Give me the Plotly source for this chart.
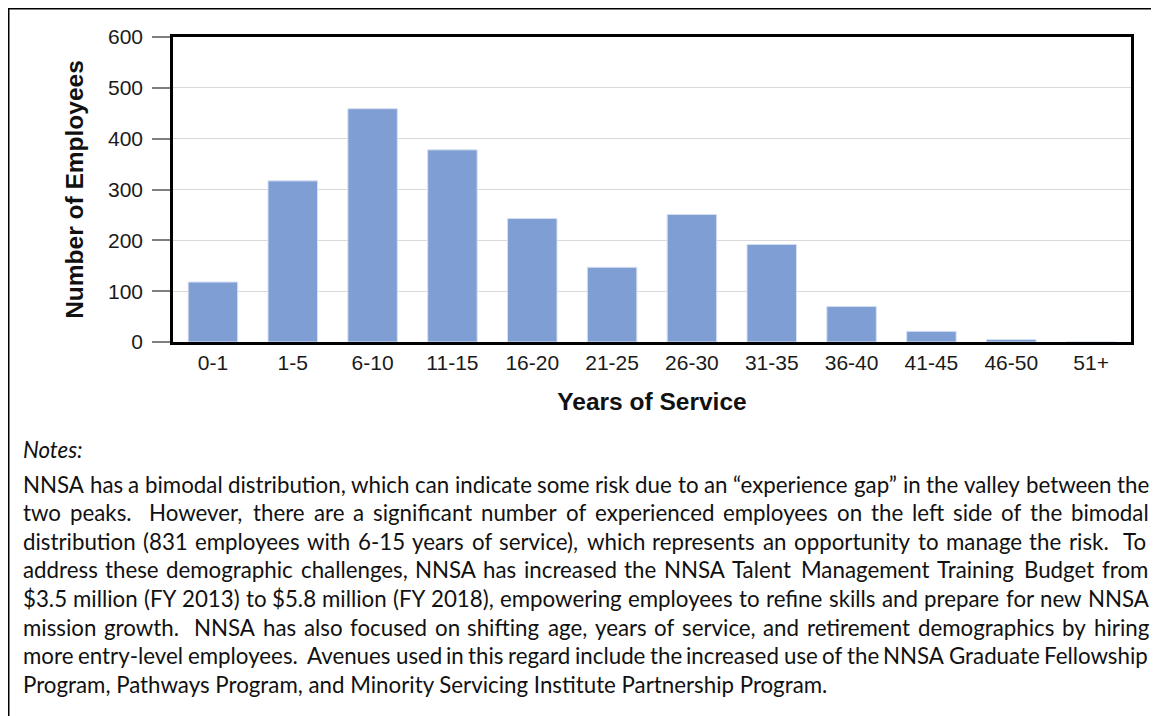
import glob
import struct
import plotly.graph_objects as go

# ---------------- data ----------------
categories = ["0-1", "1-5", "6-10", "11-15", "16-20", "21-25",
              "26-30", "31-35", "36-40", "41-45", "46-50", "51+"]
employees = [118, 317, 459, 378, 243, 147, 251, 192, 70, 21, 5, 0]
y_tick_values = [0, 100, 200, 300, 400, 500, 600]

x_title = "Years of Service"
y_title = "Number of Employees"

notes_title = "Notes:"
notes_lines = [
    "NNSA has a bimodal distribution, which can indicate some risk due to an \u201cexperience gap\u201d in the valley between the",
    "two peaks.  However, there are a significant number of experienced employees on the left side of the bimodal",
    "distribution (831 employees with 6-15 years of service), which represents an opportunity to manage the risk.  To",
    "address these demographic challenges, NNSA has increased the NNSA Talent Management Training Budget from",
    "$3.5 million (FY 2013) to $5.8 million (FY 2018), empowering employees to refine skills and prepare for new NNSA",
    "mission growth.  NNSA has also focused on shifting age, years of service, and retirement demographics by hiring",
    "more entry-level employees.  Avenues used in this regard include the increased use of the NNSA Graduate Fellowship",
    "Program, Pathways Program, and Minority Servicing Institute Partnership Program.",
]

# ---------------- layout geometry (page pixels) ----------------
PAGE_W, PAGE_H = 1159, 716
OFF = 8  # browser body margin
W, H = PAGE_W - OFF, PAGE_H - OFF
PL, PR, PT, PB = 173, 1131, 37, 342  # plot area edges on the page


def px_x(px):
    return (px - PL) / (PR - PL)


def px_y(py):
    return (PB - py) / (PB - PT)


# ---------------- font metrics for justified notes ----------------
def _parse_ttf(path):
    data = open(path, "rb").read()
    num = struct.unpack(">H", data[4:6])[0]
    tables = {}
    for i in range(num):
        tag, _, off, ln = struct.unpack(">4sIII", data[12 + 16 * i:28 + 16 * i])
        tables[tag.decode("latin1")] = off
    head = tables["head"]
    upm = struct.unpack(">H", data[head + 18:head + 20])[0]
    hhea = tables["hhea"]
    nhm = struct.unpack(">H", data[hhea + 34:hhea + 36])[0]
    hmtx = tables["hmtx"]
    adv = [struct.unpack(">H", data[hmtx + 4 * i:hmtx + 4 * i + 2])[0] for i in range(nhm)]
    cmap = tables["cmap"]
    nsub = struct.unpack(">H", data[cmap + 2:cmap + 4])[0]
    sub = None
    for i in range(nsub):
        pid, eid, off = struct.unpack(">HHI", data[cmap + 4 + 8 * i:cmap + 12 + 8 * i])
        s = cmap + off
        fmt = struct.unpack(">H", data[s:s + 2])[0]
        if fmt == 4 and (pid == 3 or pid == 0):
            sub = s
            break
    if sub is None:
        raise ValueError("no cmap")
    segx2 = struct.unpack(">H", data[sub + 6:sub + 8])[0]
    seg = segx2 // 2
    ends = sub + 14
    starts = ends + segx2 + 2
    deltas = starts + segx2
    ranges = deltas + segx2

    def glyph(c):
        for k in range(seg):
            e = struct.unpack(">H", data[ends + 2 * k:ends + 2 * k + 2])[0]
            if e >= c:
                st = struct.unpack(">H", data[starts + 2 * k:starts + 2 * k + 2])[0]
                if st > c:
                    return 0
                d = struct.unpack(">h", data[deltas + 2 * k:deltas + 2 * k + 2])[0]
                ro = struct.unpack(">H", data[ranges + 2 * k:ranges + 2 * k + 2])[0]
                if ro == 0:
                    return (c + d) & 0xFFFF
                a = ranges + 2 * k + ro + 2 * (c - st)
                g = struct.unpack(">H", data[a:a + 2])[0]
                return (g + d) & 0xFFFF if g else 0
        return 0

    cache = {}

    def width(ch):
        if ch not in cache:
            g = glyph(ord(ch))
            cache[ch] = adv[min(g, len(adv) - 1)] / upm
        return cache[ch]
    return width


_ARIAL = {" ": .278, ",": .278, ".": .278, "-": .333, "(": .333, ")": .333, "$": .556,
          "\u201c": .333, "\u201d": .333, ":": .278,
          "A": .667, "B": .667, "C": .722, "D": .722, "E": .667, "F": .611, "G": .778, "H": .722,
          "I": .278, "J": .5, "K": .667, "L": .556, "M": .833, "N": .722, "O": .778, "P": .667,
          "Q": .778, "R": .722, "S": .667, "T": .611, "U": .722, "V": .667, "W": .944, "X": .667,
          "Y": .667, "Z": .611, "a": .556, "b": .556, "c": .5, "d": .556, "e": .556, "f": .278,
          "g": .556, "h": .556, "i": .222, "j": .222, "k": .5, "l": .222, "m": .833, "n": .556,
          "o": .556, "p": .556, "q": .556, "r": .333, "s": .5, "t": .278, "u": .556, "v": .5,
          "w": .722, "x": .5, "y": .5, "z": .5}


def _fallback(ch):
    if ch.isdigit():
        return .556 * 0.9
    return _ARIAL.get(ch, .5) * 0.9


def load_width(pattern):
    paths = []
    for root in ("/usr/share/fonts", "/usr/local/share/fonts", "/root/.fonts"):
        paths += glob.glob(root + "/**/" + pattern, recursive=True)
    for p in paths:
        try:
            return _parse_ttf(p)
        except Exception:
            continue
    return _fallback


NOTE_FONT = "Lato"
width_fn = load_width("Lato-Regular.ttf")

TXT_L, TXT_R = 22, 1148
natural_last = 809.0  # px width of the final (unjustified) line in the reference
em_last = sum(width_fn(c) for c in notes_lines[-1])
note_size = max(15.0, min(23.0, natural_last / em_last)) if em_last else 19
note_size = round(note_size, 1)

NOTES_Y = 449
LINE0_Y = 484
LINE_STEP = 28.6

annotations = []


def add_text(text, px, py, size, italic=False, anchor="left"):
    annotations.append(dict(
        text=text, x=px_x(px), y=px_y(py), xref="paper", yref="paper",
        xanchor=anchor, yanchor="middle", showarrow=False, borderpad=0,
        font=dict(family=NOTE_FONT, size=size, color="#111111",
                  style="italic" if italic else "normal"),
    ))


add_text(notes_title, TXT_L, NOTES_Y, note_size, italic=True)

for li, line in enumerate(notes_lines):
    py = LINE0_Y + li * LINE_STEP
    justify = li < len(notes_lines) - 1
    if not justify:
        add_text(line, TXT_L, py, note_size)
        continue
    nat = sum(width_fn(c) for c in line) * note_size
    nspace = line.count(" ")
    extra = (TXT_R - TXT_L - nat) / nspace if nspace else 0
    x = TXT_L
    word = ""
    wstart = x
    for ch in line:
        if ch == " ":
            if word:
                add_text(word, wstart, py, note_size)
                word = ""
            x += width_fn(ch) * note_size + extra
        else:
            if not word:
                wstart = x
            word += ch
            x += width_fn(ch) * note_size
    if word:
        add_text(word, wstart, py, note_size)

# ---------------- figure ----------------
fig = go.Figure(go.Bar(
    x=categories, y=employees,
    marker=dict(color="#7f9fd4", line=dict(color="#d6e0f2", width=1)),
    width=0.62,
))

fig.update_layout(
    width=W, height=H,
    margin=dict(l=PL - OFF, r=PAGE_W - PR, t=PT - OFF, b=PAGE_H - PB),
    paper_bgcolor="white", plot_bgcolor="white",
    showlegend=False,
    font=dict(family="Liberation Sans, Arial", color="#1a1a1a"),
    annotations=annotations,
    shapes=[
        dict(type="line", xref="paper", yref="paper",
             x0=px_x(8.5), x1=px_x(8.5), y0=px_y(6), y1=px_y(720), line=dict(color="black", width=2)),
        dict(type="line", xref="paper", yref="paper",
             x0=px_x(7), x1=px_x(1152), y0=px_y(8.5), y1=px_y(8.5), line=dict(color="black", width=2)),
    ],
)

fig.update_xaxes(
    type="category", showline=True, mirror=True, linecolor="black", linewidth=2.5,
    ticks="", showgrid=False, tickfont=dict(size=21, color="#1a1a1a"),
    ticklabelstandoff=0,
    title=dict(text=x_title, font=dict(size=24.5, weight="bold", color="#111111"), standoff=20),
)
fig.update_yaxes(
    range=[0, 600], tickvals=y_tick_values, showline=True, mirror=True,
    linecolor="black", linewidth=2.5, showgrid=True, gridcolor="#d9d9d9", gridwidth=1.2,
    ticks="outside", ticklen=18, tickcolor="#7f7f7f", tickwidth=1.5,
    tickfont=dict(size=21, color="#1a1a1a"), ticklabelstandoff=5, zeroline=False,
    title=dict(text=y_title, font=dict(size=24.5, weight="bold", color="#111111"), standoff=18),
)

fig.write_html("out.html")
